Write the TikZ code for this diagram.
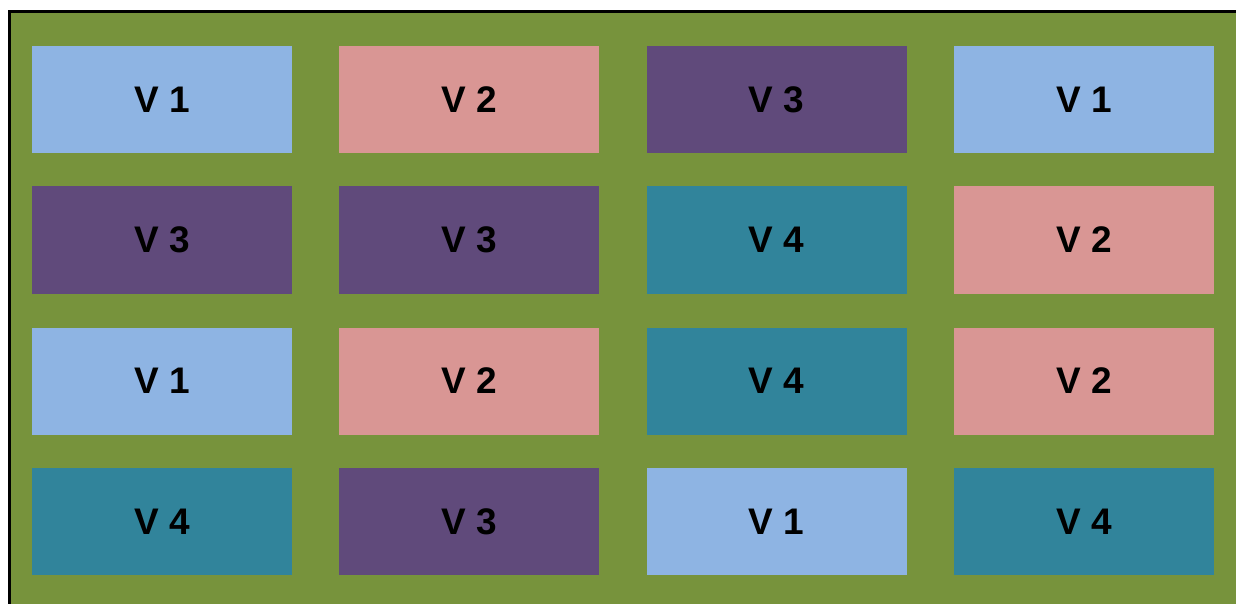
\documentclass[tikz,border=0pt]{standalone}
\usepackage{fontspec}
\setmainfont{Liberation Sans}
\definecolor{bgGreen}{HTML}{77933C}
\definecolor{cOne}{HTML}{8EB4E3}
\definecolor{cTwo}{HTML}{D99694}
\definecolor{cThree}{HTML}{604A7B}
\definecolor{cFour}{HTML}{31849B}
\begin{document}
\begin{tikzpicture}[x=1pt,y=1pt,
  cell/.style={minimum width=260pt,minimum height=107pt,inner sep=0pt,outer sep=0pt,
    font=\fontsize{37}{40}\selectfont\bfseries,text=black},
  vone/.style={cell,fill=cOne},
  vtwo/.style={cell,fill=cTwo},
  vthree/.style={cell,fill=cThree},
  vfour/.style={cell,fill=cFour}]
\useasboundingbox (0,0) rectangle (1236,-604);
\fill[bgGreen] (9,-12) rectangle (1236,-604);
\draw[line width=3pt] (9,-605) -- (9,-12) -- (1237,-12);
% columns centers: 162, 469, 776.5, 1084 ; rows: 99.5, 240, 381, 521.5
\node[vone]   (a11) at (162,-99.5) {V 1};
\node[vtwo]   (a12) at (469,-99.5) {V 2};
\node[vthree] (a13) at (776.5,-99.5) {V 3};
\node[vone]   (a14) at (1084,-99.5) {V 1};
\node[vthree] (a21) at (162,-240) {V 3};
\node[vthree] (a22) at (469,-240) {V 3};
\node[vfour]  (a23) at (776.5,-240) {V 4};
\node[vtwo]   (a24) at (1084,-240) {V 2};
\node[vone]   (a31) at (162,-381) {V 1};
\node[vtwo]   (a32) at (469,-381) {V 2};
\node[vfour]  (a33) at (776.5,-381) {V 4};
\node[vtwo]   (a34) at (1084,-381) {V 2};
\node[vfour]  (a41) at (162,-521.5) {V 4};
\node[vthree] (a42) at (469,-521.5) {V 3};
\node[vone]   (a43) at (776.5,-521.5) {V 1};
\node[vfour]  (a44) at (1084,-521.5) {V 4};
\end{tikzpicture}
\end{document}
